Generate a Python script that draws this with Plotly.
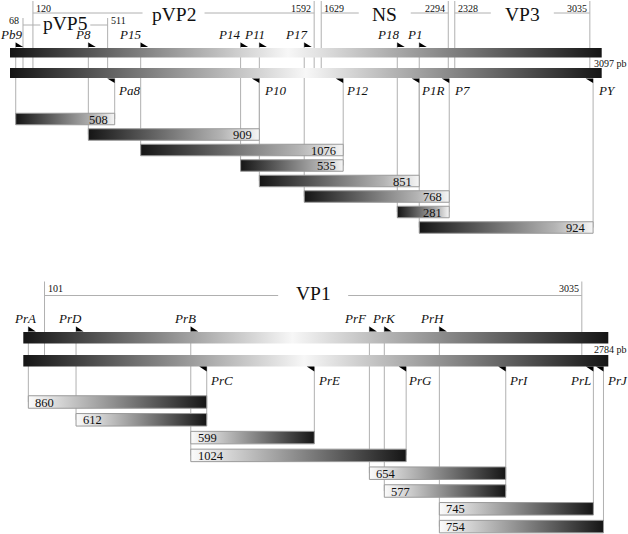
import plotly.graph_objects as go

# ---------------- data: segment A (top) ----------------
seg_a_len = 3097
reg_a_names = ["pVP5", "pVP2", "NS", "VP3"]
reg_a_start = [68, 120, 1629, 2328]
reg_a_end = [511, 1592, 2294, 3035]
reg_a_start_text = ["68", "120", "1629", "2328"]
reg_a_end_text = ["511", "1592", "2294", "3035"]
reg_a_tier = [2, 1, 1, 1]

fwd_a_names = ["Pb9", "P8", "P15", "P14", "P11", "P17", "P18", "P1"]
fwd_a_pos = [30, 410, 684, 1207, 1305, 1540, 2027, 2142]
rev_a_names = ["Pa8", "P10", "P12", "P1R", "P7", "PY"]
rev_a_pos = [548, 1305, 1744, 2142, 2299, 3052]

prod_a_len = [508, 909, 1076, 535, 851, 768, 281, 924]
prod_a_fwd = ["Pb9", "P8", "P15", "P14", "P11", "P17", "P18", "P1"]
prod_a_rev = ["Pa8", "P10", "P12", "P12", "P1R", "P7", "P7", "PY"]

# ---------------- data: segment B (bottom) ----------------
seg_b_len = 2784
reg_b_names = ["VP1"]
reg_b_start = [101]
reg_b_end = [2658]
reg_b_start_text = ["101"]
reg_b_end_text = ["3035"]
reg_b_tier = [1]

fwd_b_names = ["PrA", "PrD", "PrB", "PrF", "PrK", "PrH"]
fwd_b_pos = [24, 251, 797, 1647, 1718, 1980]
rev_b_names = ["PrC", "PrE", "PrG", "PrI", "PrL", "PrJ"]
rev_b_pos = [873, 1385, 1822, 2296, 2713, 2761]

prod_b_len = [860, 612, 599, 1024, 654, 577, 745, 754]
prod_b_fwd = ["PrA", "PrD", "PrB", "PrB", "PrF", "PrK", "PrH", "PrH"]
prod_b_rev = ["PrC", "PrC", "PrE", "PrG", "PrI", "PrI", "PrL", "PrJ"]

# ---------------- layout / style ----------------
W, H = 628, 534
SERIF = "Liberation Serif"
LINE_C = "#b0b0b0"
DARK = "#151515"

# label placement tweaks (pixels): forward labels are right-anchored,
# reverse labels left-anchored unless listed in REV_LEFT_OF_LINE
FWD_SHIFT = {"Pb9": 7.5, "P8": 4, "P15": 1.5, "P14": 0.5, "P11": 7, "P17": 4,
             "P18": 3, "P1": 4, "PrA": 9, "PrD": 7, "PrB": 6, "PrF": -1,
             "PrK": 12.5, "PrH": 6}
REV_SHIFT = {"Pa8": 2, "P10": 4, "P12": 2, "P1R": 1, "P7": 4, "PY": 3.5,
             "PrC": 2.5, "PrE": 2.5, "PrG": 1, "PrI": 2.5, "PrL": -1.5, "PrJ": 2.5}
REV_LEFT_OF_LINE = {"PrL"}

panels = [
    dict(
        xa="x", px0=10, px1=601.7, length=seg_a_len,
        reg=(reg_a_names, reg_a_start, reg_a_end, reg_a_start_text, reg_a_end_text, reg_a_tier),
        fwd=(fwd_a_names, fwd_a_pos), rev=(rev_a_names, rev_a_pos),
        prod=(prod_a_len, prod_a_fwd, prod_a_rev),
        tier_line={1: 13, 2: 25}, tier_vtop={1: 1, 2: 18}, tier_num={1: 8.5, 2: 20},
        tier_lab={1: 14, 2: 23}, gap_px={"pVP5": 50, "pVP2": 62, "NS": 52, "VP3": 63},
        fwd_lab=34.5, arr_f=(42.5, 47), bar1=(48, 57.5), bar2=(68, 78),
        arr_r=(78.5, 83), rev_lab=90, row0=119, step=15.5, rh=11.5,
        pb_y=63, pb_shift=-8.5,
        bar1_cs=[[0, DARK], [0.47, "#f7f7f7"], [1, DARK]],
        bar2_cs=[[0, DARK], [0.5, "#f7f7f7"], [1, DARK]],
        prod_cs=[[0, DARK], [0.78, "#b4b4b4"], [1, "#f6f6f6"]],
        prod_text_side="right",
    ),
    dict(
        xa="x2", px0=23.3, px1=608.3, length=seg_b_len,
        reg=(reg_b_names, reg_b_start, reg_b_end, reg_b_start_text, reg_b_end_text, reg_b_tier),
        fwd=(fwd_b_names, fwd_b_pos), rev=(rev_b_names, rev_b_pos),
        prod=(prod_b_len, prod_b_fwd, prod_b_rev),
        tier_line={1: 295.5}, tier_vtop={1: 281.5}, tier_num={1: 288.5},
        tier_lab={1: 293.5}, gap_px={"VP1": 70},
        fwd_lab=318.5, arr_f=(326.5, 331.5), bar1=(332, 343.5), bar2=(355, 366.5),
        arr_r=(366.5, 371.5), rev_lab=380, row0=402, step=17.8, rh=12.5,
        pb_y=349, pb_shift=-15.5,
        bar1_cs=[[0, DARK], [0.46, "#f7f7f7"], [1, DARK]],
        bar2_cs=[[0, DARK], [0.48, "#f7f7f7"], [1, DARK]],
        prod_cs=[[0, "#fbfbfb"], [0.12, "#e2e2e2"], [1, DARK]],
        prod_text_side="left",
    ),
]

fig = go.Figure()
shapes = []
annos = []


def add_poly(xs, ys, xa, cs=None, fill="black", lc=None):
    kw = dict(x=xs, y=ys, xaxis=xa, yaxis="y", mode="lines", fill="toself",
              hoverinfo="skip", showlegend=False,
              line=dict(color=lc if lc else "rgba(0,0,0,0)", width=1 if lc else 0))
    if cs is not None:
        kw["fillgradient"] = dict(type="horizontal", colorscale=cs)
    else:
        kw["fillcolor"] = fill
    fig.add_trace(go.Scatter(**kw))


def vline(xa, x, y0, y1):
    shapes.append(dict(type="line", xref=xa, yref="y", x0=x, x1=x, y0=y0, y1=y1,
                       line=dict(color=LINE_C, width=1), layer="below"))


def hline(xa, x0, x1, y):
    shapes.append(dict(type="line", xref=xa, yref="y", x0=x0, x1=x1, y0=y, y1=y,
                       line=dict(color=LINE_C, width=1), layer="below"))


def text(xa, x, y, s, size, anchor="center", xshift=0):
    annos.append(dict(xref=xa, yref="y", x=x, y=y, text=s, showarrow=False,
                      xanchor=anchor, yanchor="middle", xshift=xshift,
                      borderpad=0,
                      font=dict(family=SERIF, size=size, color="#111")))


ranges = {}
for P in panels:
    xa = P["xa"]
    scale = (P["px1"] - P["px0"]) / P["length"]
    ranges[xa] = [-P["px0"] / scale, (W - P["px0"]) / scale]
    names, starts, ends, stxt, etxt, tiers = P["reg"]
    b2top = P["bar2"][0]

    # region annotations
    for nm, s, e, st, et, t in zip(names, starts, ends, stxt, etxt, tiers):
        ly = P["tier_line"][t]
        vt = P["tier_vtop"][t]
        vline(xa, s, vt, b2top)
        vline(xa, e, vt, b2top)
        mid = (s + e) / 2
        g = P["gap_px"][nm] / 2 / scale
        hline(xa, s, mid - g, ly)
        hline(xa, mid + g, e, ly)
        text(xa, mid, P["tier_lab"][t], nm, 19.5)
        ny = P["tier_num"][t]
        if t == 1:
            text(xa, s, ny, st, 10, "left", 2)
            text(xa, e, ny, et, 10, "right", -2)
        else:
            text(xa, s, ny, st, 10, "right", -3)
            text(xa, e, ny, et, 10, "left", 2)

    # genome bars
    L = P["length"]
    for (y0, y1), cs in ((P["bar1"], P["bar1_cs"]), (P["bar2"], P["bar2_cs"])):
        add_poly([0, L, L, 0, 0], [y0, y0, y1, y1, y0], xa, cs=cs)
    text(xa, L, P["pb_y"], f"{L} pb", 10, "left", P["pb_shift"])

    # primers
    fnames, fpos = P["fwd"]
    rnames, rpos = P["rev"]
    fmap = dict(zip(fnames, fpos))
    rmap = dict(zip(rnames, rpos))
    plen, pf, pr = P["prod"]
    row_y = [P["row0"] + i * P["step"] for i in range(len(plen))]
    aw = 7.5 / scale

    for nm, x in zip(fnames, fpos):
        rows = [row_y[i] for i in range(len(plen)) if pf[i] == nm]
        vline(xa, x, P["arr_f"][0], max(rows))
        ya, yb = P["arr_f"]
        add_poly([x, x, x + aw, x], [ya, yb, yb, ya], xa)
        text(xa, x, P["fwd_lab"], f"<i>{nm}</i>", 13, "right", FWD_SHIFT.get(nm, 4))

    for nm, x in zip(rnames, rpos):
        rows = [row_y[i] for i in range(len(plen)) if pr[i] == nm]
        vline(xa, x, P["arr_r"][0], max(rows))
        ya, yb = P["arr_r"]
        add_poly([x - aw, x, x, x - aw], [ya, ya, yb, ya], xa)
        anc = "right" if nm in REV_LEFT_OF_LINE else "left"
        text(xa, x, P["rev_lab"], f"<i>{nm}</i>", 13, anc, REV_SHIFT.get(nm, 2))

    # PCR products
    for i, (n, f, r) in enumerate(zip(plen, pf, pr)):
        x0, x1 = fmap[f], rmap[r]
        yc = row_y[i]
        y0, y1 = yc - P["rh"] / 2, yc + P["rh"] / 2
        add_poly([x0, x1, x1, x0, x0], [y0, y0, y1, y1, y0], xa,
                 cs=P["prod_cs"], lc="#9a9a9a")
        if P["prod_text_side"] == "right":
            text(xa, x1, yc + 0.5, str(n), 12.5, "right", -6)
        else:
            text(xa, x0, yc + 0.5, str(n), 12.5, "left", 6)

fig.update_layout(
    width=W, height=H, autosize=False,
    margin=dict(l=0, r=0, t=0, b=0),
    paper_bgcolor="white", plot_bgcolor="white",
    showlegend=False, hovermode=False,
    shapes=shapes, annotations=annos,
    xaxis=dict(range=ranges["x"], visible=False, domain=[0, 1], anchor="y"),
    xaxis2=dict(range=ranges["x2"], visible=False, domain=[0, 1], anchor="y",
                overlaying="x"),
    yaxis=dict(range=[H, 0], visible=False, domain=[0, 1]),
)
fig.write_html(
    "out.html",
    config={"displayModeBar": False},
    post_script="document.body.style.margin='0';document.body.style.overflow='hidden';",
)
